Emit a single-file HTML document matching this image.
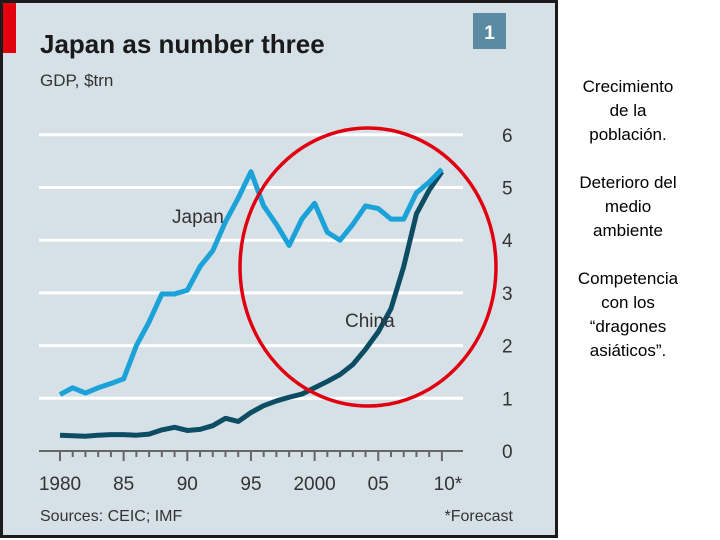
<!DOCTYPE html>
<html><head><meta charset="utf-8"><style>
body{margin:0;width:720px;height:540px;background:#fff;overflow:hidden;font-family:"Liberation Sans",sans-serif}
#side{position:absolute;left:560px;top:75px;width:136px;text-align:center;font-size:17px;line-height:24px;color:#000}
</style></head><body>
<svg id="chart" width="560" height="540" style="position:absolute;left:0;top:0">
<rect x="1.5" y="1.5" width="555" height="535" fill="#d6e0e7" stroke="#1b1b1b" stroke-width="3"/>
<rect x="3" y="3" width="13" height="50" fill="#e3000f"/>
<text x="40" y="53" font-size="26" font-weight="bold" fill="#1a1a1a" font-family="Liberation Sans Narrow, Liberation Sans, sans-serif">Japan as number three</text>
<text x="40" y="86" font-size="17" fill="#333">GDP, $trn</text>
<rect x="473" y="13" width="33" height="36" fill="#5b8aa3"/>
<text x="489.5" y="39" font-size="19" font-weight="bold" fill="#fff" text-anchor="middle">1</text>
<g id="grid"></g><g id="xaxis"></g><g id="lines"></g>
<text x="172" y="223" font-size="19" fill="#333">Japan</text>
<text x="345" y="327" font-size="19" fill="#333">China</text>
<ellipse cx="368" cy="267" rx="128" ry="139" fill="none" stroke="#e00010" stroke-width="3.5"/>
<text x="40" y="521" font-size="16" fill="#333">Sources: CEIC; IMF</text>
<text x="513" y="521" font-size="16" fill="#333" text-anchor="end">*Forecast</text>
</svg>
<div id="side">
<div>Crecimiento<br>de la<br>población.</div><br>
<div>Deterioro del<br>medio<br>ambiente</div><br>
<div>Competencia<br>con los<br>“dragones<br>asiáticos”.</div>
</div>
<script>
const years=[1980,1981,1982,1983,1984,1985,1986,1987,1988,1989,1990,1991,1992,1993,1994,1995,1996,1997,1998,1999,2000,2001,2002,2003,2004,2005,2006,2007,2008,2009,2010];
const japan=[1.07,1.2,1.1,1.2,1.28,1.37,2.0,2.45,2.98,2.98,3.05,3.5,3.8,4.35,4.8,5.3,4.65,4.3,3.9,4.4,4.7,4.15,4.0,4.3,4.65,4.6,4.4,4.4,4.9,5.1,5.35];
const china=[0.3,0.29,0.28,0.3,0.31,0.31,0.3,0.32,0.4,0.45,0.39,0.41,0.48,0.62,0.56,0.73,0.86,0.95,1.02,1.08,1.2,1.32,1.45,1.64,1.93,2.26,2.7,3.5,4.5,4.95,5.3];
const yTicks=[0,1,2,3,4,5,6];
const xTickYears=[1980,1985,1990,1995,2000,2005,2010];
const xTickLabels=["1980","85","90","95","2000","05","10*"];
const NS="http://www.w3.org/2000/svg";
const X=y=>60+(y-1980)*12.73, Y=v=>451-v*52.7;
function mk(t,a,p){const e=document.createElementNS(NS,t);for(const k in a)e.setAttribute(k,a[k]);p.appendChild(e);return e;}
const g=document.getElementById('grid'),xa=document.getElementById('xaxis'),ln=document.getElementById('lines');
yTicks.forEach(v=>{
 if(v>0){const l=mk('line',{x1:39,x2:463,y1:Y(v),y2:Y(v),stroke:'#fff','stroke-width':3},g);
 
 }
 const t=mk('text',{x:502,y:Y(v)+7,'font-size':19,fill:'#333'},g);t.textContent=v;
 
 
});
const ax=mk('line',{x1:39,x2:463,y1:Y(0),y2:Y(0),stroke:'#666','stroke-width':2},xa);


for(let y=1980;y<=2010;y++){const major=(y%5===0);
 const tk=mk('line',{x1:X(y),x2:X(y),y1:Y(0),y2:Y(0)+(major?10:6),stroke:'#666','stroke-width':2},xa);
 
 }
xTickYears.forEach((y,i)=>{const t=mk('text',{x:X(y)+(i==6?6:0),y:490,'font-size':19,fill:'#333','text-anchor':'middle'},xa);t.textContent=xTickLabels[i];
 
 });
function pts(a){return a.map((v,i)=>X(years[i])+','+Y(v)).join(' ');}
const cl=mk('polyline',{points:pts(china),fill:'none',stroke:'#0c4d64','stroke-width':5,'stroke-linejoin':'round'},ln);


const jl=mk('polyline',{points:pts(japan),fill:'none',stroke:'#1ba2d8','stroke-width':5,'stroke-linejoin':'round'},ln);


</script>
</body></html>
